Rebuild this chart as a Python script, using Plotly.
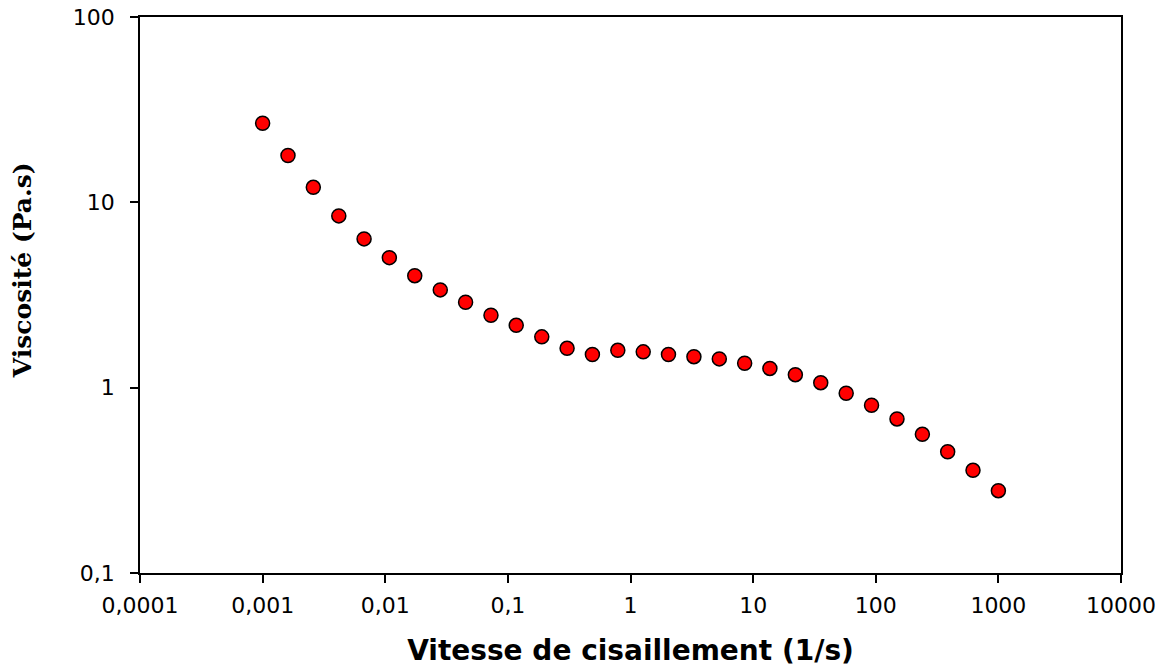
import plotly.graph_objects as go

# Shear rate (1/s) and measured viscosity (Pa.s)
shear_rate = [0.001, 0.00161, 0.00259, 0.00418, 0.00672, 0.0108, 0.0174, 0.0281,
              0.0452, 0.0728, 0.117, 0.189, 0.304, 0.489, 0.788, 1.27, 2.04, 3.29,
              5.30, 8.53, 13.7, 22.1, 35.6, 57.4, 92.4, 149, 240, 386, 621, 1000]
viscosity = [26.7, 17.9, 12.05, 8.45, 6.35, 5.03, 4.02, 3.37, 2.89, 2.46,
             2.17, 1.88, 1.63, 1.51, 1.59, 1.56, 1.51, 1.47, 1.43, 1.355,
             1.27, 1.175, 1.064, 0.933, 0.804, 0.678, 0.560, 0.451, 0.358, 0.278]

x_tickvals = [0.0001, 0.001, 0.01, 0.1, 1, 10, 100, 1000, 10000]
x_ticktext = ["0,0001", "0,001", "0,01", "0,1", "1", "10", "100", "1000", "10000"]
y_tickvals = [0.1, 1, 10, 100]
y_ticktext = ["0,1", "1", "10", "100"]

fig = go.Figure()
fig.add_trace(go.Scatter(
    x=shear_rate, y=viscosity, mode="markers",
    marker=dict(symbol="circle", size=14, color="#ff0000",
                line=dict(color="black", width=1.5)),
    showlegend=False,
))

axis_common = dict(
    showgrid=False, zeroline=False, showline=True, linecolor="black",
    linewidth=1.5, mirror=True, ticks="outside", ticklen=8, tickwidth=1.5,
    tickcolor="black", automargin=False,
    tickfont=dict(family="DejaVu Sans, Arial, sans-serif", size=22, color="black"),
)

fig.update_xaxes(
    type="log", range=[-4, 4], tickvals=x_tickvals, ticktext=x_ticktext,
    ticklabelstandoff=4,
    title=dict(text="<b>Vitesse de cisaillement (1/s)</b>", standoff=28,
               font=dict(family="DejaVu Sans, Arial, sans-serif", size=28, color="black")),
    **axis_common,
)
fig.update_yaxes(
    type="log", range=[-1, 2], tickvals=y_tickvals, ticktext=y_ticktext,
    ticklabelstandoff=11,
    **axis_common,
)

# Rotated y-axis title placed as a paper annotation
fig.add_annotation(
    text="<b>Viscosité (Pa.s)</b>", textangle=-90,
    xref="paper", yref="paper", x=-0.119, y=0.545,
    xanchor="center", yanchor="middle", showarrow=False,
    font=dict(family="DejaVu Serif, Times New Roman, serif", size=25, color="black"),
)

fig.update_layout(
    width=1168, height=667,
    margin=dict(l=140, r=47, t=17, b=94),
    plot_bgcolor="white", paper_bgcolor="white",
)

fig.write_html("out.html")
